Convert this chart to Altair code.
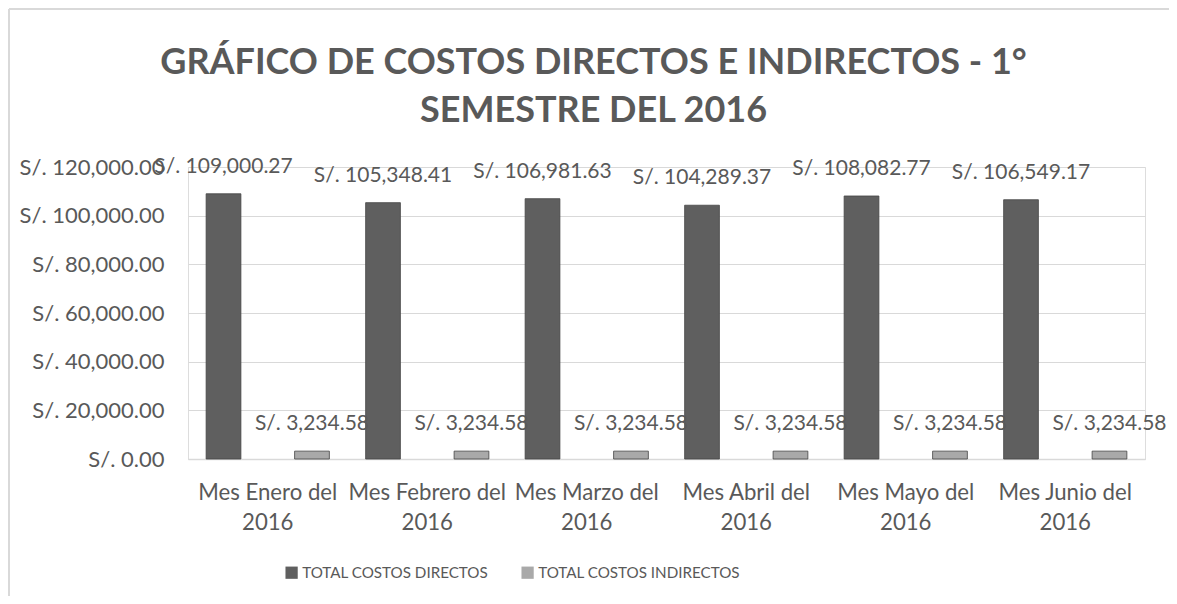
import altair as alt
import pandas as pd

months = ["Mes Enero del 2016", "Mes Febrero del 2016", "Mes Marzo del 2016",
          "Mes Abril del 2016", "Mes Mayo del 2016", "Mes Junio del 2016"]
directos = [109000.27, 105348.41, 106981.63, 104289.37, 108082.77, 106549.17]
indirectos = [3234.58, 3234.58, 3234.58, 3234.58, 3234.58, 3234.58]
series = ["TOTAL COSTOS DIRECTOS", "TOTAL COSTOS INDIRECTOS"]
y_ticks = [0, 20000, 40000, 60000, 80000, 100000, 120000]
colors = ["#5f5f5f", "#a9a9a9"]

rows = []
for m, d, i in zip(months, directos, indirectos):
    rows.append({"mes": m, "serie": series[0], "valor": d})
    rows.append({"mes": m, "serie": series[1], "valor": i})
df = pd.DataFrame(rows)

FONT = "Lato"
TXT = "#595959"

x = alt.X("mes:N", sort=months, title=None,
          scale=alt.Scale(paddingInner=0, paddingOuter=0),
          axis=alt.Axis(labelAngle=0, ticks=False, domainColor="#d9d9d9", domainWidth=1.5,
                        labelFontSize=22.2, labelColor=TXT, labelFont=FONT, labelPadding=22,
                        labelLineHeight=30, labelLimit=200,
                        labelExpr="[replace(datum.label, ' 2016', ''), '2016']"))
xo = alt.XOffset("serie:N", sort=series,
                 scale=alt.Scale(paddingInner=0.607, paddingOuter=0.205))
y = alt.Y("valor:Q", title=None,
          scale=alt.Scale(domain=[0, 120000], nice=False),
          axis=alt.Axis(values=y_ticks, domain=False, ticks=False, gridColor="#d9d9d9",
                        gridWidth=1.2, labelFontSize=22, labelColor=TXT, labelFont=FONT,
                        labelPadding=24,
                        labelExpr="'S/. ' + format(datum.value, ',.2f')"))

base = alt.Chart(df).encode(x=x, xOffset=xo, y=y)

bars = base.mark_bar(stroke="#454545", strokeWidth=0.8).encode(
    color=alt.Color("serie:N", sort=series,
                    scale=alt.Scale(domain=series, range=colors),
                    legend=alt.Legend(title=None, orient="none", direction="horizontal",
                                      legendX=96, legendY=398, symbolType="square",
                                      symbolSize=150, symbolStrokeWidth=0,
                                      labelFontSize=15.2, labelColor=TXT, labelFont=FONT,
                                      columnPadding=31, labelOffset=3, labelLimit=400))
)

labels = base.mark_text(dy=-27, fontSize=21, font=FONT, color=TXT, baseline="middle").encode(
    text="lbl:N"
).transform_calculate(lbl="'S/. ' + format(datum.valor, ',.2f')")

frame_df = pd.DataFrame({"k": [0]})
border_top = alt.Chart(frame_df).mark_rule(color="#d9d9d9", strokeWidth=2).encode(
    x=alt.value(-179), x2=alt.value(990), y=alt.value(-158))
border_left = alt.Chart(frame_df).mark_rule(color="#d9d9d9", strokeWidth=2).encode(
    x=alt.value(-179), y=alt.value(-158), y2=alt.value(430))

chart = alt.layer(border_top, border_left, bars, labels).properties(
    width=957, height=292,
    title=alt.TitleParams(["GRÁFICO DE COSTOS DIRECTOS E INDIRECTOS - 1°", "SEMESTRE DEL 2016"],
                          fontSize=36, font=FONT, fontWeight="bold", color=TXT,
                          lineHeight=48, anchor="middle", frame="group",
                          dx=-73, offset=0, dy=122),
    autosize=alt.AutoSizeParams(type="none"),
    padding={"left": 180, "top": 159, "right": 24, "bottom": 137},
).configure_view(stroke=None).configure(background="white")

chart.save("out.html", embed_options={"renderer": "svg", "actions": False})
